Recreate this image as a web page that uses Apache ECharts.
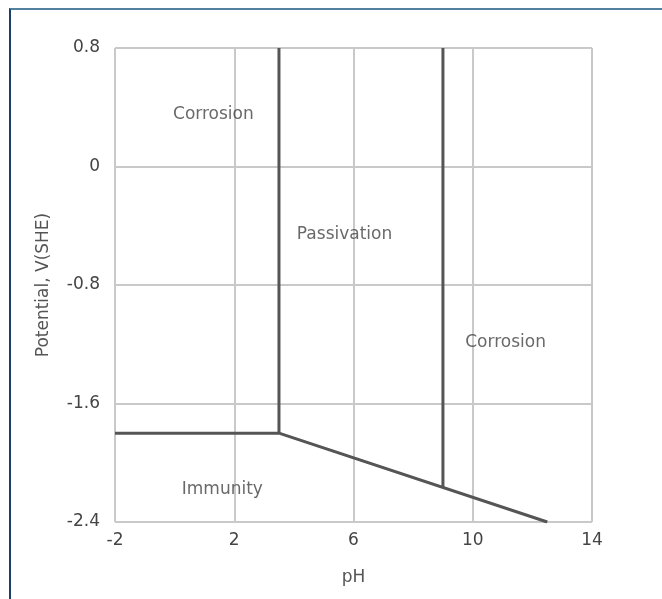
<!DOCTYPE html>
<html>
<head>
<meta charset="utf-8">
<script src="https://cdn.jsdelivr.net/npm/echarts@6/dist/echarts.min.js"></script>
<style>
html,body{margin:0;padding:0;background:#fff;}
#c{width:662px;height:599px;position:absolute;left:0;top:0;}
#frame{position:absolute;left:9px;top:8px;width:660px;height:600px;border-top:2px solid #52809f;border-left:2px solid #1d3d6e;pointer-events:none;}
</style>
</head>
<body>
<div id="c"></div>
<div id="frame"></div>
<script>
// Boundary lines of the Pourbaix-style diagram (pH, potential V)
const immunityBoundary = [[-2, -1.8], [3.5, -1.8], [12.5, -2.4]];
const leftPassiveBoundary = [[3.5, -1.8], [3.5, 0.8]];
const rightPassiveBoundary = [[9, -2.167], [9, 0.8]];
// Region labels
const regionLabels = [
  { name: 'Corrosion', value: [1.3, 0.35] },
  { name: 'Passivation', value: [5.7, -0.46] },
  { name: 'Corrosion', value: [11.1, -1.19] },
  { name: 'Immunity', value: [1.6, -2.18] }
];
// Tick values
const xTickValues = [-2, 2, 6, 10, 14];
const yTickValues = [-2.4, -1.6, -0.8, 0, 0.8];

const font = '"DejaVu Sans", sans-serif';
const fs = 17;
const gridColor = '#c9c9c9';
const chart = echarts.init(document.getElementById('c'));
const lineStyle = { color: '#555', width: 3 };
chart.setOption({
  animation: false,
  grid: { left: 115, right: 70, top: 48, bottom: 77 },
  xAxis: {
    type: 'value', min: xTickValues[0], max: xTickValues[xTickValues.length - 1], interval: 4,
    name: 'pH', nameLocation: 'middle', nameGap: 47,
    nameTextStyle: { color: '#555', fontSize: fs, fontFamily: font },
    axisLine: { show: false },
    axisTick: { show: false },
    axisLabel: { color: '#444', fontSize: fs, fontFamily: font, margin: 10,
      customValues: xTickValues },
    splitLine: { show: false }
  },
  yAxis: {
    type: 'value', min: yTickValues[0], max: yTickValues[yTickValues.length - 1], interval: 0.8,
    name: 'Potential, V(SHE)', nameLocation: 'middle', nameGap: 63,
    nameTextStyle: { color: '#555', fontSize: fs, fontFamily: font },
    axisLine: { show: false },
    axisTick: { show: false },
    axisLabel: { color: '#444', fontSize: fs, fontFamily: font, margin: 15,
      customValues: yTickValues,
      formatter: v => String(Math.round(v * 10) / 10) },
    splitLine: { show: false }
  },
  series: [
    {
      type: 'line', data: [], silent: true,
      markLine: {
        symbol: 'none', silent: true, label: { show: false },
        lineStyle: { color: gridColor, width: 2, type: 'solid' },
        data: xTickValues.map(v => ({ xAxis: v })).concat(yTickValues.map(v => ({ yAxis: v })))
      },
      z: 1
    },
    { type: 'line', data: immunityBoundary, symbol: 'none', lineStyle, z: 5 },
    { type: 'line', data: leftPassiveBoundary, symbol: 'none', lineStyle, z: 5 },
    { type: 'line', data: rightPassiveBoundary, symbol: 'none', lineStyle, z: 5 },
    {
      type: 'scatter', data: regionLabels, symbolSize: 0,
      label: { show: true, position: 'inside', formatter: p => p.name,
        color: '#444', fontSize: fs, fontFamily: font },
      z: 6
    }
  ]
});
</script>
</body>
</html>
